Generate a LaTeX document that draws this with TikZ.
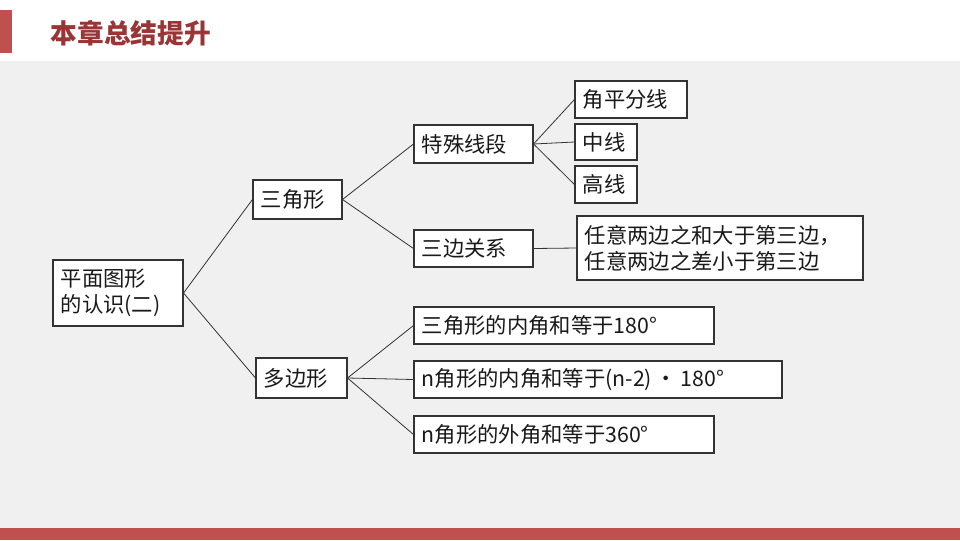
\documentclass[tikz,border=0pt]{standalone}
\usepackage{fontspec}
\setmainfont{Noto Sans CJK SC}
\begin{document}
\begin{tikzpicture}[x=0.75pt,y=-0.75pt,
  bx/.style={draw=black!80,fill=white,line width=0.8pt,inner sep=0pt},
  tx/.style={anchor=west,inner sep=0pt,align=left,font=\fontsize{16}{19.5}\selectfont\mdseries,text=black!90},
  ln/.style={draw=black!80,line width=0.6pt}]
\useasboundingbox (0,0) rectangle (960,540);
\definecolor{tred}{HTML}{9B3535}
\definecolor{bred}{HTML}{C0504D}
\fill[white] (0,0) rectangle (960,540);
\fill[black!6] (0,61) rectangle (960,528);
\fill[bred] (0,10) rectangle (12,53);
\fill[bred] (0,528) rectangle (960,540);
\node[anchor=west,text=tred,font=\fontsize{20}{24}\selectfont\bfseries] (title) at (46,33) {本章总结提升};
\newcommand\bxat[6]{\node[bx,minimum width=#3*0.75pt-#1*0.75pt,minimum height=#4*0.75pt-#2*0.75pt] (#5) at ({(#1+#3)/2},{(#2+#4)/2}) {};
  \node[tx] (#5t) at ([xshift=6pt]#5.west) {#6};}
\bxat{53}{260}{183}{326}{root}{平面图形\\的认识(二)}
\bxat{253}{180}{342}{219}{tri}{三角形}
\bxat{256}{358}{347}{398}{poly}{多边形}
\bxat{414}{125}{533}{163}{tsxd}{特殊线段}
\bxat{414}{230}{533}{267}{sbgx}{三边关系}
\bxat{575}{81}{687}{118}{jpf}{角平分线}
\bxat{575}{124}{637}{160}{zx}{中线}
\bxat{575}{166}{637}{203}{gx}{高线}
\bxat{577}{216}{863}{280}{ry}{任意两边之和大于第三边，\\任意两边之差小于第三边}
\bxat{414}{307}{714}{344}{p1}{三角形的内角和等于180°}
\bxat{414}{361}{782}{398}{p2}{n角形的内角和等于(n-2)\,•\,180°}
\bxat{414}{416}{714}{453}{p3}{n角形的外角和等于360°}
\draw[ln] (root.east) -- (tri.west);
\draw[ln] (root.east) -- (poly.west);
\draw[ln] (tri.east) -- (tsxd.west);
\draw[ln] (tri.east) -- (sbgx.west);
\draw[ln] (tsxd.east) -- (jpf.west);
\draw[ln] (tsxd.east) -- (zx.west);
\draw[ln] (tsxd.east) -- (gx.west);
\draw[ln] (sbgx.east) -- (ry.west);
\draw[ln] (poly.east) -- (p1.west);
\draw[ln] (poly.east) -- (p2.west);
\draw[ln] (poly.east) -- (p3.west);
\end{tikzpicture}
\end{document}
